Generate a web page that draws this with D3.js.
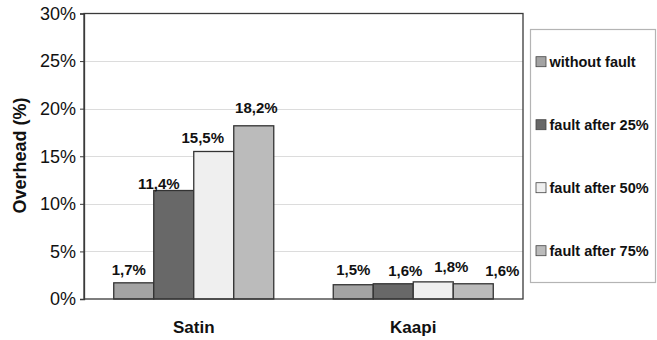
<!DOCTYPE html>
<html>
<head>
<meta charset="utf-8">
<script src="https://cdn.jsdelivr.net/npm/d3@7"></script>
<style>
  html, body { margin: 0; padding: 0; background: #fff; }
  svg { display: block; font-family: "Liberation Sans", Arial, sans-serif; }
</style>
</head>
<body>
<svg id="chart" width="657" height="340"></svg>
<script>
// Overhead per application and fault timing
const categories = ["Satin", "Kaapi"];
const seriesNames = ["without fault", "fault after 25%", "fault after 50%", "fault after 75%"];
const satinValues = [1.7, 11.4, 15.5, 18.2];
const kaapiValues = [1.5, 1.6, 1.8, 1.6];
const yTicks = [0, 5, 10, 15, 20, 25, 30];

const seriesValues = [satinValues, kaapiValues];
const fills = ["#a3a3a3", "#686868", "#efefef", "#bbbbbb"];
// Label placement tweaks [dx, gap above bar top] so neighbouring labels don't collide
const labelShift = [
  [[-5, 8], [-15, 2], [-11, 8.4], [2.6, 12.4]],
  [[0, 9.3], [12, 8.1], [18, 10.2], [29, 8.1]]
];

const svg = d3.select("#chart");
const plot = { left: 84, right: 523, top: 13.5, bottom: 299 };

const y = d3.scaleLinear().domain([0, 30]).range([plot.bottom, plot.top]);
const x0 = d3.scaleBand().domain(categories)
  .range([plot.left, plot.right]).paddingInner(0.271).paddingOuter(0.1355);
const x1 = d3.scaleBand().domain(seriesNames).range([0, x0.bandwidth()]);

// gridlines
svg.append("g").selectAll("line")
  .data(yTicks.filter(t => t > 0 && t < 30))
  .join("line")
  .attr("x1", plot.left).attr("x2", plot.right)
  .attr("y1", d => Math.round(y(d)) + 0.5).attr("y2", d => Math.round(y(d)) + 0.5)
  .attr("stroke", "#dcdcdc").attr("stroke-width", 1);

// bars
const groups = svg.append("g").selectAll("g")
  .data(categories)
  .join("g")
  .attr("transform", d => `translate(${x0(d)},0)`);

groups.selectAll("rect")
  .data((c, ci) => seriesValues[ci].map((v, si) => ({ v, si })))
  .join("rect")
  .attr("x", d => x1(seriesNames[d.si]))
  .attr("width", x1.bandwidth())
  .attr("y", d => y(d.v))
  .attr("height", d => y(0) - y(d.v))
  .attr("fill", d => fills[d.si])
  .attr("stroke", "#333")
  .attr("stroke-width", 1.3);

// value labels
groups.selectAll("text")
  .data((c, ci) => seriesValues[ci].map((v, si) => ({ v, si, ci })))
  .join("text")
  .attr("x", d => x1(seriesNames[d.si]) + x1.bandwidth() / 2 + labelShift[d.ci][d.si][0])
  .attr("y", d => y(d.v) - labelShift[d.ci][d.si][1])
  .attr("text-anchor", "middle")
  .attr("font-size", "15px").attr("font-weight", "bold").attr("fill", "#111")
  .text(d => d.v.toFixed(1).replace(".", ",") + "%");

// plot frame
svg.append("rect")
  .attr("x", plot.left).attr("y", plot.top)
  .attr("width", plot.right - plot.left).attr("height", plot.bottom - plot.top)
  .attr("fill", "none").attr("stroke", "#3a3a3a").attr("stroke-width", 1.3);

// y axis
const yAxis = svg.append("g")
  .attr("transform", `translate(${plot.left},0)`)
  .call(d3.axisLeft(y).tickValues(yTicks).tickSize(4).tickPadding(4).tickFormat(d => d + "%"));
yAxis.select(".domain").attr("stroke", "#3a3a3a").attr("stroke-width", 1.3);
yAxis.selectAll(".tick line").attr("stroke", "#3a3a3a");
yAxis.selectAll("text")
  .attr("font-size", "18px").attr("fill", "#111")
  .attr("font-family", "Liberation Sans, Arial, sans-serif");

// category labels
svg.append("g").selectAll("text")
  .data(categories)
  .join("text")
  .attr("x", d => x0(d) + x0.bandwidth() / 2)
  .attr("y", 333)
  .attr("text-anchor", "middle")
  .attr("font-size", "17px").attr("font-weight", "bold").attr("fill", "#111")
  .text(d => d);

// y axis title
svg.append("text")
  .attr("transform", "translate(20,155.5) rotate(-90)")
  .attr("text-anchor", "middle")
  .attr("dominant-baseline", "central")
  .attr("font-size", "18px").attr("font-weight", "bold").attr("fill", "#111")
  .text("Overhead (%)");

// legend
const legend = svg.append("g");
legend.append("rect")
  .attr("x", 530.5).attr("y", 29.5).attr("width", 125).attr("height", 253)
  .attr("fill", "#fff").attr("stroke", "#b4b4b4").attr("stroke-width", 1.2);

const legendY = d3.scalePoint().domain(seriesNames).range([61.7, 250.7]);
const items = legend.selectAll("g.item")
  .data(seriesNames)
  .join("g")
  .attr("class", "item")
  .attr("transform", d => `translate(0,${legendY(d)})`);
items.append("rect")
  .attr("x", 536).attr("y", -5).attr("width", 10).attr("height", 10)
  .attr("fill", (d, i) => fills[i]).attr("stroke", "#444").attr("stroke-width", 0.8);
items.append("text")
  .attr("x", 549.5).attr("y", 5)
  .attr("font-size", "14.5px").attr("font-weight", "bold").attr("fill", "#111")
  .text(d => d);
</script>
</body>
</html>
